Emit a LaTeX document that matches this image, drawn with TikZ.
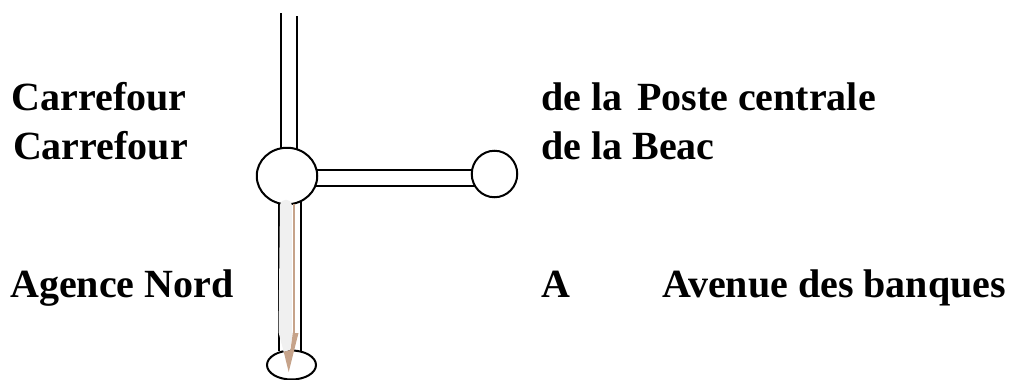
\documentclass[tikz,border=0pt]{standalone}
\usepackage{fontspec}
\setmainfont{Liberation Serif}
\usetikzlibrary{shapes.geometric}
\definecolor{arrowbrown}{RGB}{198,163,138}
\definecolor{arrowgrey}{RGB}{240,240,240}
\tikzset{
 road/.style={draw=black,line width=1.5pt},
 junction/.style={ellipse,draw=black,line width=1.5pt,fill=white,inner sep=0pt,outer sep=0pt},
 lab/.style={anchor=base west,inner sep=0pt,font=\fontsize{30}{30}\selectfont\bfseries}
}
\begin{document}
\begin{tikzpicture}[x=0.75pt,y=-0.75pt]
\useasboundingbox (0,0) rectangle (1011,379);
% upper road
\coordinate (ua) at (280.5,13); \coordinate (ub) at (280.5,150);
\coordinate (uc) at (296.5,16); \coordinate (ud) at (296.5,150);
\draw[road] (ua)--(ub); \draw[road] (uc)--(ud);
% lower road
\coordinate (la) at (279,200); \coordinate (lb) at (279,351);
\coordinate (lc) at (301.3,200); \coordinate (ld) at (301.3,351);
\draw[road] (la)--(lb); \draw[road] (lc)--(ld);
% side road
\coordinate (sa) at (310,170); \coordinate (sb) at (480,170);
\coordinate (sc) at (310,185.7); \coordinate (sd) at (480,185.7);
\draw[road] (sa)--(sb); \draw[road] (sc)--(sd);
% junctions
\node[junction,minimum width=60.5*0.75pt,minimum height=56.5*0.75pt] (J1) at (287,176) {};
\node[junction,minimum width=45.5*0.75pt,minimum height=46.5*0.75pt] (J2) at (494.5,174) {};
\begin{scope}
\clip (0,0) rectangle (1011,379);
\node[junction,minimum width=49*0.75pt,minimum height=29*0.75pt] (J3) at (291.5,365) {};
\end{scope}
% arrow
\fill[arrowgrey] (280,205) .. controls (281,198) and (291,198) .. (291.8,205) -- (291.8,330) -- (292.7,333) -- (290,350) -- (283.7,352) -- (278.5,332) -- cycle;
\coordinate (aa) at (294,204);
\coordinate (ab) at (294,333);
\draw[draw=arrowbrown,line width=2.2pt] (aa)--(ab);
\fill[arrowbrown] (288.7,372) -- (283.7,351.7) -- (290.5,350) -- (292.8,333) -- (298.5,333) -- cycle;
% labels
\node[lab] (t1) at (11.5,110.5) {Carrefour};
\node[lab] (t2) at (12.8,159.3) {Carrefour};
\node[lab] (t3) at (10,297.5) {Agence Nord};
\node[lab] (t4) at (541,110.5) {de la\hspace{3.5pt} Poste centrale};
\node[lab] (t5) at (541,159.3) {de la Beac};
\node[lab] (t6) at (541,297.5) {A};
\node[lab] (t7) at (662,297.5) {Avenue des banques};
\end{tikzpicture}
\end{document}
